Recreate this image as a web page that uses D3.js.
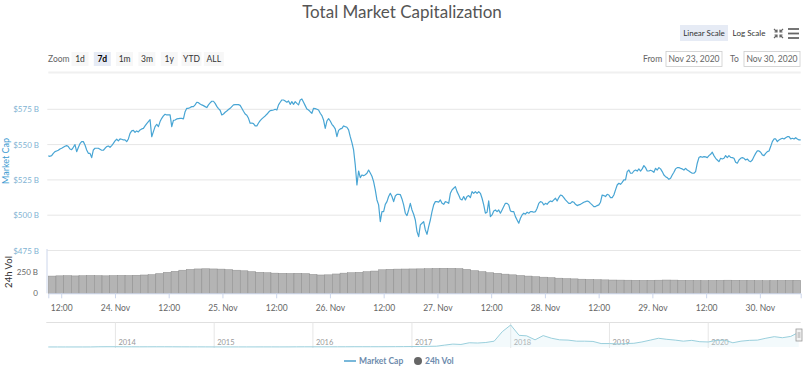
<!DOCTYPE html>
<html>
<head>
<meta charset="utf-8">
<script src="https://cdn.jsdelivr.net/npm/d3@7"></script>
<style>
  body { margin: 0; background: #fff; }
  svg { display: block; font-family: Lato, "Open Sans", sans-serif; }
</style>
</head>
<body>
<svg width="804" height="367"></svg>
<script>
//Encapsulation du script
(function () {
    /*
     * Données
     */
    //Capitalisation totale (milliards $), un point toutes les ~22 minutes
    var debutSerie = new Date(2020, 10, 23, 9, 7);
    var dureeHeures = 168;
    var capitalisation = [
        542.0, 541.7, 542.2, 543.8, 545.0, 545.5, 546.0, 546.9, 547.4, 548.1,
        548.8, 549.3, 548.6, 546.9, 546.4, 548.1, 550.0, 545.0, 547.9, 550.7,
        552.1, 552.1, 549.7, 546.2, 543.8, 543.8, 540.8, 546.2, 547.4, 547.4,
        547.4, 546.7, 546.0, 546.0, 547.4, 548.6, 549.0, 548.1, 549.3, 550.9,
        552.6, 553.8, 552.6, 554.0, 553.8, 553.3, 553.3, 552.1, 554.0, 558.0,
        559.7, 560.1, 558.7, 559.7, 559.0, 560.4, 561.1, 561.5, 563.2, 564.9,
        566.3, 567.7, 555.6, 559.2, 562.7, 564.4, 562.7, 566.3, 568.6, 570.3,
        571.5, 571.0, 571.0, 571.0, 562.7, 567.2, 567.4, 568.2, 568.4, 568.6,
        568.6, 568.2, 573.3, 575.7, 575.7, 576.2, 576.9, 576.9, 578.1, 580.0,
        579.7, 578.8, 578.1, 577.6, 576.9, 576.2, 578.1, 579.5, 580.7, 580.7,
        579.2, 577.1, 575.5, 574.3, 571.0, 571.7, 572.9, 573.8, 574.8, 575.7,
        576.9, 578.1, 578.3, 578.3, 578.3, 577.8, 575.7, 573.6, 571.7, 570.8,
        568.6, 565.1, 565.3, 564.9, 563.2, 563.2, 565.3, 567.0, 568.2, 569.3,
        570.3, 571.5, 572.9, 574.1, 574.3, 574.5, 575.0, 574.5, 578.1, 580.0,
        581.6, 581.6, 580.9, 580.0, 580.9, 578.5, 580.4, 578.5, 580.4, 579.2,
        578.1,
        581.6, 582.3, 580.0, 577.6, 575.2, 574.5, 573.3, 572.2, 575.7, 575.5,
        575.0, 574.5, 572.2, 570.5, 567.4, 561.5, 566.7, 568.4, 566.7, 564.4,
        563.0, 561.1, 555.6, 560.1, 561.1, 561.5, 563.2, 562.7, 562.3, 560.4,
        555.6, 551.4, 546.2, 535.6, 521.4, 531.3, 526.6, 528.5, 528.0, 528.7,
        529.7, 532.0, 529.9, 527.6, 523.8, 517.9, 510.8, 507.3, 495.5, 502.5,
        502.5, 507.7, 509.6, 513.2, 515.5, 513.2, 509.6, 513.6, 514.8, 514.8,
        514.6, 511.5, 507.3, 501.4, 499.7, 503.7, 508.4, 503.7, 500.7, 496.6,
        488.4, 484.8, 493.1, 494.3, 495.5, 489.6, 486.5, 491.9, 496.6, 502.5,
        507.3, 509.6, 509.6, 509.2, 510.8, 508.4, 507.7, 509.6, 509.2, 508.4,
        515.5, 517.9, 519.1, 520.2, 516.7, 514.3, 511.5, 510.8, 513.2, 510.8,
        513.2, 513.9, 512.5, 516.7, 515.5, 516.7, 515.5, 516.7, 515.5, 512.0,
        507.3, 501.4, 502.1, 510.1, 499.0, 500.2, 503.0, 503.7, 502.5, 503.7,
        501.4, 503.7, 506.1, 508.4, 508.4, 507.3, 503.0, 502.5, 502.5, 499.0,
        496.6, 494.3, 497.8, 500.2, 501.4, 500.7, 502.1, 501.4, 502.5, 502.5,
        502.1, 502.5, 504.9, 508.4, 509.6, 509.2, 507.3, 508.4, 507.7, 509.2,
        510.1, 509.6, 510.8, 512.0, 510.1, 512.5,
        514.3, 513.9, 512.5, 510.8, 509.6, 508.4, 508.4, 509.6, 509.2, 507.7,
        506.8, 507.3, 507.7, 508.4, 509.2, 509.6, 510.1, 509.6, 508.4, 507.3,
        506.1, 506.1, 506.8, 507.3, 509.2, 514.3, 513.9, 513.2, 514.8, 514.3,
        512.5, 512.5, 514.3, 517.9, 521.4, 522.6, 521.9, 523.3, 525.0, 525.0,
        530.9, 532.0, 529.7, 529.7, 531.3, 532.0, 531.3, 532.8, 531.3, 532.8,
        535.1, 533.7, 531.3, 531.3, 531.8, 531.3, 530.4, 533.2, 532.0, 533.7,
        532.8, 530.9, 528.5, 527.3, 526.6, 525.4, 526.1, 528.5, 530.4, 532.8,
        533.7, 533.7, 533.2, 532.8, 532.0, 533.2, 532.0, 531.3, 530.4, 529.7,
        529.7, 530.9, 536.8, 540.8, 541.5, 541.0, 541.5, 541.3, 540.8, 542.2,
        543.1, 544.6, 542.2, 540.3, 539.1, 537.9, 540.3, 539.8, 540.3, 542.2,
        540.8, 542.2, 541.0, 540.8, 540.3, 537.5, 536.8, 539.1, 540.3, 540.8,
        540.3, 539.1, 539.8, 538.4, 537.9, 539.1, 541.5, 543.8, 545.5, 545.5,
        544.6, 542.7, 542.2, 543.8, 545.0, 545.5, 548.6, 552.1, 554.0, 554.0,
        552.1, 553.3, 554.0, 554.5, 554.0, 554.9, 555.6, 555.6, 554.0, 554.5,
        554.0, 554.9, 554.0, 553.3, 553.3
    ];
    //Volume 24h (milliards $), barres regroupées sur la période
    var volumes = [
        205, 208, 210, 207, 209, 212, 210, 208, 211, 213, 212, 215, 218, 222,
        235, 250, 262,
        275, 285, 290, 292, 290, 288, 282, 275, 268,
        258, 250, 245, 240, 238, 236, 238,
        235, 225, 218, 220,
        230, 240, 245, 250, 257, 265,
        280, 286, 288, 289, 290, 291, 293, 296, 298, 297, 294,
        285, 270, 258, 245, 238,
        228, 220, 212, 205, 198, 192, 186, 180,
        175, 172, 168, 165, 162, 160, 158, 157,
        156, 155, 154, 155, 156, 158, 157, 155, 154, 153, 152, 153, 154, 156,
        155, 154, 153, 152, 151, 152, 153, 154, 155
    ];
    //Navigateur : capitalisation mensuelle depuis avril 2013
    var navDebut = new Date(2013, 3, 28);
    var navPremierMois = new Date(2013, 3, 1);
    var navValeurs = [
        1.5, 1.4, 1.2, 1.0, 1.3, 1.6, 2.2, 8, 10,
        10, 8, 7, 6, 6.5, 8, 8, 7, 5.5, 5, 5.2, 4.5,
        3.5, 3.3, 3.5, 3.3, 3.3, 3.5, 4, 3.6, 3.5, 4, 5.5, 6.5,
        6.8, 6.5, 7, 7.5, 8, 10, 10, 9.5, 10, 11, 12, 14,
        17, 18, 25, 30, 70, 110, 95, 160, 150, 170, 220, 580,
        830, 440, 420, 270, 430, 330, 270, 260, 220, 220, 210, 130,
        130, 115, 130, 140, 190, 260, 330, 290, 260, 220, 250, 200,
        190, 250, 260, 160, 220, 250, 260, 330, 390, 350, 400
    ];
    var navAnnees = [2014, 2015, 2016, 2017, 2018, 2019, 2020];
    //Graduations
    var ticksPrix = [475, 500, 525, 550, 575];
    var ticksVolume = [0, 250];
    var boutonsZoom = ["1d", "7d", "1m", "3m", "1y", "YTD", "ALL"];
    var zoomActif = "7d";
    var dateDe = "Nov 23, 2020", dateA = "Nov 30, 2020";

    /*
     * Construction des séries
     */
    var finSerie = d3.timeMinute.offset(debutSerie, dureeHeures * 60);
    var pasMs = (finSerie - debutSerie) / (capitalisation.length - 1);
    var serie = capitalisation.map((v, i) => ({t: new Date(+debutSerie + i * pasMs), v: v}));
    var pasVolMs = (finSerie - debutSerie) / volumes.length;
    var serieVol = volumes.map((v, i) => ({t: new Date(+debutSerie + i * pasVolMs), v: v}));
    var serieNav = navValeurs.map((v, i) => ({t: d3.timeMonth.offset(navPremierMois, i), v: v}));
    serieNav.push({t: finSerie, v: capitalisation[capitalisation.length - 1]});

    var svg = d3.select("svg");
    var gauche = 48.3, droite = 800.7;

    //Echelles
    var echelleX = d3.scaleTime().domain([debutSerie, finSerie]).range([gauche, droite]);
    var echelleY = d3.scaleLinear().domain([475, 575]).range([250.5, 109.3]);
    var echelleVol = d3.scaleLinear().domain([0, 250]).range([293.3, 272.3]);
    var echelleNavX = d3.scaleTime().domain([navDebut, finSerie]).range([gauche, droite - 2]);
    var echelleNavY = d3.scaleLinear().domain([0, 830]).range([347, 325]);

    /*
     * Titre et boutons
     */
    svg.append("text")
        .attr("x", 402).attr("y", 18)
        .attr("text-anchor", "middle")
        .attr("font-size", 17)
        .attr("fill", "#555")
        .text("Total Market Capitalization");

    svg.append("rect").attr("x", 680).attr("y", 25).attr("width", 48).attr("height", 16)
        .attr("fill", "#e6ebf5");
    svg.append("text").attr("x", 704).attr("y", 36).attr("text-anchor", "middle")
        .attr("font-size", 8).attr("fill", "#333").text("Linear Scale");
    svg.append("text").attr("x", 749).attr("y", 36).attr("text-anchor", "middle")
        .attr("font-size", 8).attr("fill", "#333").text("Log Scale");
    //Icône plein écran
    var icone = svg.append("g").attr("stroke", "#666").attr("stroke-width", 1.2).attr("fill", "none");
    icone.append("path").attr("d", "M774,29 l3,3 M777,29.5 v2.5 h-2.5");
    icone.append("path").attr("d", "M783,29 l-3,3 M780,29.5 v2.5 h2.5");
    icone.append("path").attr("d", "M774,38 l3,-3 M777,37.5 v-2.5 h-2.5");
    icone.append("path").attr("d", "M783,38 l-3,-3 M780,37.5 v-2.5 h2.5");
    //Menu
    svg.append("g").attr("stroke", "#666").attr("stroke-width", 1.8)
        .selectAll("line").data([29, 33.5, 38]).join("line")
        .attr("x1", 788).attr("x2", 799).attr("y1", d => d).attr("y2", d => d);

    //Boutons de zoom
    svg.append("text").attr("x", 48).attr("y", 62).attr("font-size", 8.5)
        .attr("fill", "#666").text("Zoom");
    var bouton = svg.selectAll(".bouton-zoom").data(boutonsZoom).join("g")
        .attr("class", "bouton-zoom")
        .attr("transform", (d, i) => "translate(" + (80 + i * 22.3) + ",0)");
    bouton.append("rect")
        .attr("x", d => d.length > 2 ? -10 : -8.5).attr("y", 52)
        .attr("width", d => d.length > 2 ? 20 : 17).attr("height", 14)
        .attr("fill", d => d === zoomActif ? "#e6ebf5" : "#f7f7f7");
    bouton.append("text").attr("y", 62).attr("text-anchor", "middle")
        .attr("font-size", 8.5)
        .attr("font-weight", d => d === zoomActif ? "bold" : null)
        .attr("fill", d => d === zoomActif ? "#000" : "#333")
        .text(d => d);

    //Champs de dates
    svg.append("text").attr("x", 643).attr("y", 62).attr("font-size", 8.5)
        .attr("fill", "#666").text("From");
    svg.append("text").attr("x", 730).attr("y", 62).attr("font-size", 8.5)
        .attr("fill", "#666").text("To");
    [[666, dateDe], [744, dateA]].forEach(function (c) {
        svg.append("rect").attr("x", c[0]).attr("y", 51.5).attr("width", 56).attr("height", 15)
            .attr("fill", "#fff").attr("stroke", "#ccc").attr("stroke-width", 0.8);
        svg.append("text").attr("x", c[0] + 28).attr("y", 62).attr("text-anchor", "middle")
            .attr("font-size", 8.5).attr("fill", "#666").text(c[1]);
    });
    svg.append("line").attr("x1", gauche).attr("x2", droite).attr("y1", 72.5).attr("y2", 72.5)
        .attr("stroke", "#f0f0f0").attr("stroke-width", 2);

    /*
     * Panneau de prix
     */
    svg.append("g").selectAll("line").data(ticksPrix).join("line")
        .attr("x1", gauche - 1).attr("x2", droite)
        .attr("y1", d => echelleY(d)).attr("y2", d => echelleY(d))
        .attr("stroke", "#e6e6e6").attr("stroke-width", 1);
    svg.append("g").selectAll("text").data(ticksPrix).join("text")
        .attr("x", 39).attr("y", d => echelleY(d) + 3)
        .attr("text-anchor", "end").attr("font-size", 8)
        .attr("fill", "#7fb3d3")
        .text(d => "$" + d + " B");
    svg.append("text")
        .attr("transform", "translate(9,161) rotate(-90)")
        .attr("text-anchor", "middle").attr("font-size", 9)
        .attr("fill", "#3d9bd1").text("Market Cap");

    //Courbe de capitalisation
    svg.append("path").datum(serie)
        .attr("fill", "none")
        .attr("stroke", "#48a5d4")
        .attr("stroke-width", 1.2)
        .attr("stroke-linejoin", "round")
        .attr("d", d3.line().x(d => echelleX(d.t)).y(d => echelleY(d.v)));

    /*
     * Panneau du volume
     */
    svg.append("line").attr("x1", 47).attr("x2", 47).attr("y1", 249).attr("y2", 293.3)
        .attr("stroke", "#ccd6eb");
    svg.append("g").selectAll("rect").data(serieVol).join("rect")
        .attr("x", d => echelleX(d.t))
        .attr("width", echelleX(new Date(+debutSerie + pasVolMs)) - echelleX(debutSerie))
        .attr("y", d => echelleVol(d.v))
        .attr("height", d => echelleVol(0) - echelleVol(d.v))
        .attr("fill", "#b4b4b4")
        .attr("stroke", "#8e8e8e")
        .attr("stroke-width", 0.5);
    svg.append("g").selectAll("text").data(ticksVolume).join("text")
        .attr("x", 38).attr("y", d => echelleVol(d) + 3)
        .attr("text-anchor", "end").attr("font-size", 8)
        .attr("fill", "#666")
        .text(d => d === 0 ? "0" : d + " B");
    svg.append("text")
        .attr("transform", "translate(12,272) rotate(-90)")
        .attr("text-anchor", "middle").attr("font-size", 9.5)
        .attr("fill", "#333").text("24h Vol");

    //Axe des abscisses
    var formatJour = d3.timeFormat("%-d. %b");
    var axeX = d3.axisBottom(echelleX)
        .ticks(d3.timeHour.every(12))
        .tickSize(5)
        .tickFormat(d => d.getHours() === 0 ? formatJour(d) : "12:00");
    var gAxe = svg.append("g").attr("transform", "translate(0,293.3)").call(axeX);
    gAxe.select(".domain").attr("stroke", "#ccd6eb");
    gAxe.selectAll(".tick line").attr("stroke", "#ccd6eb");
    gAxe.selectAll(".tick text").attr("fill", "#666").attr("font-size", 8.5)
        .attr("font-family", "Lato, sans-serif").attr("dy", "1.1em");

    /*
     * Navigateur
     */
    svg.append("line").attr("x1", gauche - 2).attr("x2", droite).attr("y1", 322.5).attr("y2", 322.5)
        .attr("stroke", "#e0e0e0");
    svg.append("g").selectAll("line").data(navAnnees).join("line")
        .attr("x1", d => echelleNavX(new Date(d, 0, 1))).attr("x2", d => echelleNavX(new Date(d, 0, 1)))
        .attr("y1", 322.5).attr("y2", 348)
        .attr("stroke", "#e6e6e6");
    svg.append("g").selectAll("text").data(navAnnees).join("text")
        .attr("x", d => echelleNavX(new Date(d, 0, 1)) + 3).attr("y", 345)
        .attr("font-size", 7.5).attr("fill", "#999")
        .text(d => d);
    var xNav = d => echelleNavX(d.t < navDebut ? navDebut : d.t);
    svg.append("path").datum(serieNav)
        .attr("fill", "#d8eef4").attr("fill-opacity", 0.3)
        .attr("d", d3.area().x(xNav).y0(echelleNavY(0)).y1(d => echelleNavY(d.v)));
    svg.append("path").datum(serieNav)
        .attr("fill", "none").attr("stroke", "#8fcad8").attr("stroke-width", 0.9)
        .attr("d", d3.line().x(xNav).y(d => echelleNavY(d.v)));
    //Poignée de sélection
    svg.append("rect").attr("x", 796).attr("y", 329).attr("width", 6).attr("height", 12)
        .attr("fill", "#f2f2f2").attr("stroke", "#999").attr("stroke-width", 0.8);
    svg.append("path").attr("d", "M798.2,332 v6 M799.8,332 v6")
        .attr("stroke", "#999").attr("stroke-width", 0.6);

    /*
     * Légende
     */
    svg.append("line").attr("x1", 344).attr("x2", 356).attr("y1", 361).attr("y2", 361)
        .attr("stroke", "#79b8da").attr("stroke-width", 2);
    svg.append("text").attr("x", 359).attr("y", 364).attr("font-size", 8.5)
        .attr("font-weight", "bold").attr("fill", "#6d8bad").text("Market Cap");
    svg.append("circle").attr("cx", 418).attr("cy", 361).attr("r", 4).attr("fill", "#666");
    svg.append("text").attr("x", 425).attr("y", 364).attr("font-size", 8.5)
        .attr("font-weight", "bold").attr("fill", "#6d8bad").text("24h Vol");
})();
</script>
</body>
</html>
